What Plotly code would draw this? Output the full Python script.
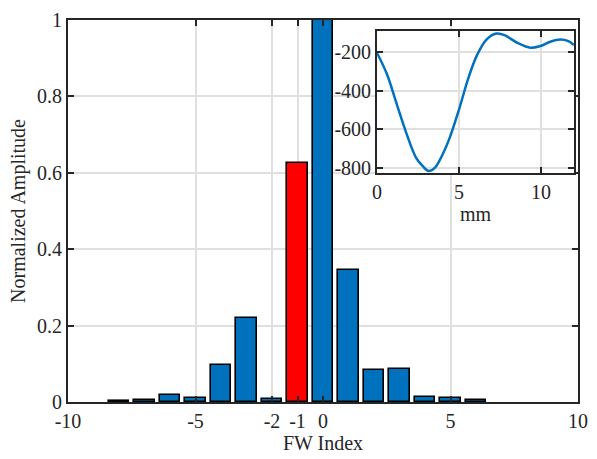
import plotly.graph_objects as go

# ---- data ----
fw_index = [-8, -7, -6, -5, -4, -3, -2, -1, 0, 1, 2, 3, 4, 5, 6]
amplitude = [0.002, 0.005, 0.018, 0.011, 0.098, 0.22, 0.007, 0.626, 1.0,
             0.345, 0.083, 0.087, 0.014, 0.010, 0.005]
highlight_index = -1

x_ticks = [-10, -5, -2, -1, 0, 5, 10]
x_ticklabels = ["-10", "-5", "-2", "-1", "0", "5", "10"]
y_ticks = [0, 0.2, 0.4, 0.6, 0.8, 1]
y_ticklabels = ["0", "0.2", "0.4", "0.6", "0.8", "1"]

inset_mm = [0, 0.6, 1.19, 1.79, 2.39, 2.79, 3.15, 3.5, 3.78, 4.38, 4.98, 5.58,
            6.1, 6.67, 7.27, 7.77, 8.56, 9.36, 9.96, 10.56, 11.16, 11.66, 12.0]
inset_val = [-205, -314, -467, -620, -748, -790, -815, -800, -765, -654, -501, -331,
             -215, -136, -105, -113, -153, -178, -169, -147, -136, -144, -164]
inset_xticks = [0, 5, 10]
inset_xticklabels = ["0", "5", "10"]
inset_yticks = [-800, -600, -400, -200]
inset_yticklabels = ["-800", "-600", "-400", "-200"]

# ---- styles ----
BLUE = "#0072BD"
RED = "#FF0000"
AX = "#262626"
GRID = "#e0e0e0"
FONT = "Liberation Serif"
FS = 20

colors = [RED if i == highlight_index else BLUE for i in fw_index]

fig = go.Figure()
fig.add_trace(go.Bar(
    x=fw_index, y=amplitude, width=0.8,
    marker=dict(color=colors, line=dict(color="black", width=1.6)),
    xaxis="x", yaxis="y", showlegend=False,
))
fig.add_trace(go.Scatter(
    x=inset_mm, y=inset_val, mode="lines",
    line=dict(color=BLUE, width=2.5, shape="spline", smoothing=1.0),
    xaxis="x2", yaxis="y2", showlegend=False,
))

common = dict(showline=True, linecolor=AX, linewidth=2, mirror="ticks",
              ticks="inside", ticklen=6, tickwidth=1.5, tickcolor=AX,
              showgrid=True, gridcolor=GRID, gridwidth=1.5, zeroline=False,
              tickfont=dict(family=FONT, size=FS, color=AX))

fig.update_layout(
    width=597, height=459,
    margin=dict(l=68, r=9, t=17, b=56),
    paper_bgcolor="white", plot_bgcolor="white",
    font=dict(family=FONT, size=FS, color=AX),
    bargap=0,
    xaxis=dict(domain=[0, 1], range=[-10, 10], tickmode="array", tickvals=x_ticks,
               ticktext=x_ticklabels,
               title=dict(text="FW Index", font=dict(family=FONT, size=FS, color=AX), standoff=4),
               **common),
    yaxis=dict(domain=[0, 1], range=[0, 1], tickmode="array", tickvals=y_ticks,
               ticktext=y_ticklabels,
               title=dict(text="Normalized Amplitude", font=dict(family=FONT, size=FS, color=AX), standoff=6),
               **common),
    xaxis2=dict(domain=[0.606, 0.992], range=[0, 12], tickmode="array", tickvals=inset_xticks,
                ticktext=inset_xticklabels, anchor="y2",
                title=dict(text="mm", font=dict(family=FONT, size=FS, color=AX), standoff=2),
                **common),
    yaxis2=dict(domain=[0.599, 0.972], range=[-826, -90], tickmode="array", tickvals=inset_yticks,
                ticktext=inset_yticklabels, anchor="x2", **common),
)

fig.write_html("out.html")
